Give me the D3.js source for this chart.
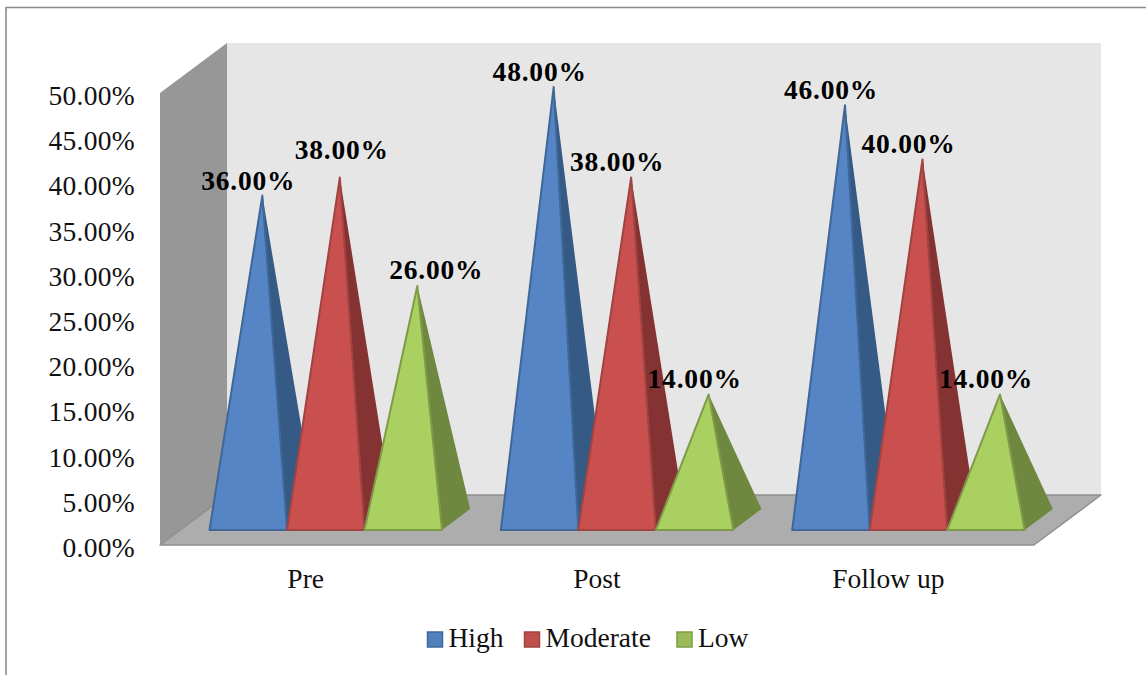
<!DOCTYPE html>
<html>
<head>
<meta charset="utf-8">
<script src="https://cdn.jsdelivr.net/npm/d3@7"></script>
<style>
  html, body { margin: 0; padding: 0; background: #fff; }
  svg { display: block; }
  text { font-family: "Liberation Serif", serif; fill: #111; }
</style>
</head>
<body>
<div id="chart"></div>
<script>
// values
var categories = ["Pre", "Post", "Follow up"];
var seriesNames = ["High", "Moderate", "Low"];
var high = [36, 48, 46];
var moderate = [38, 38, 40];
var low = [26, 14, 14];
var seriesValues = [high, moderate, low];
var yTicks = [0, 5, 10, 15, 20, 25, 30, 35, 40, 45, 50];

var frontColors = ["#5585c5", "#c9504f", "#aad061"];
var sideColors = ["#355a86", "#843232", "#6f8840"];
var lineColors = ["#3f6797", "#a04341", "#7f9a48"];
var legendColors = ["#4f81bd", "#c0504d", "#9bbb59"];

var totalWidth = 1146, totalHeight = 675;
var margin = { left: 160, top: 93 };
var width = 874, height = 452;
var fontSize = 27.5;
// depth of the 3d box, back wall is this far up and right of the front
var depthX = 67, depthY = 50;

var svg = d3.select("#chart").append("svg")
    .attr("width", totalWidth)
    .attr("height", totalHeight);

// outer frame
svg.append("path")
    .attr("d", "M6,675V7.5H1146")
    .attr("fill", "none")
    .attr("stroke", "#8c8c8c")
    .attr("stroke-width", 1.6);

var g = svg.append("g")
    .attr("transform", "translate(" + margin.left + "," + margin.top + ")");

var yScale = d3.scaleLinear().domain([0, 50]).range([height, 0]);
var xScale = d3.scaleBand().domain(categories).range([0, width]);
var innerScale = d3.scaleBand().domain(seriesNames)
    .range([xScale.bandwidth() * 0.101, xScale.bandwidth() * 0.899]);

// project a point (x in plot px, value, depth 0..1) on the screen
function project(x, value, depth) {
    return [x + depthX * depth, yScale(value) - depthY * depth];
}
function poly(points) {
    return "M" + points.map(function(p) { return p.join(","); }).join("L") + "Z";
}

// walls and floor
g.append("path")
    .attr("d", poly([project(0, 0, 1), project(width, 0, 1), project(width, 50, 1), project(0, 50, 1)]))
    .attr("fill", "#e6e6e6");
g.append("path")
    .attr("d", poly([project(0, 0, 0), project(0, 50, 0), project(0, 50, 1), project(0, 0, 1)]))
    .attr("fill", "#979797");
g.append("path")
    .attr("d", poly([project(0, 0, 0), project(0, 0, 1), project(width, 0, 1), project(width, 0, 0)]))
    .attr("fill", "#adadad")
    .attr("stroke", "#8f8f8f")
    .attr("stroke-width", 1.5)
    .attr("stroke-linejoin", "round");

// axes, text only
var yAxis = d3.axisLeft(yScale).tickValues(yTicks).tickSize(0).tickPadding(25)
    .tickFormat(function(d) { return d.toFixed(2) + "%"; });
var yAxisGroup = g.append("g").call(yAxis);
yAxisGroup.select(".domain").remove();
yAxisGroup.selectAll("text").attr("font-size", fontSize).attr("font-family", null)
    .attr("dy", "0.42em").attr("letter-spacing", 0.3).style("fill", "#111");

var xAxis = d3.axisBottom(xScale).tickSize(0).tickPadding(23);
var xAxisGroup = g.append("g").attr("transform", "translate(0," + height + ")").call(xAxis);
xAxisGroup.select(".domain").remove();
xAxisGroup.selectAll("text").attr("font-size", fontSize).attr("font-family", null)
    .style("fill", "#111");

// pyramids
var frontDepth = 0.3, backDepth = 0.72, midDepth = 0.51;
var apexDrop = 1.5;
var items = [];
categories.forEach(function(cat, c) {
    seriesNames.forEach(function(name, s) {
        items.push({ cat: cat, name: name, s: s, value: seriesValues[s][c] });
    });
});

var pyramid = g.selectAll(".pyramid").data(items).enter().append("g").attr("class", "pyramid");
function corners(d) {
    var x0 = xScale(d.cat) + innerScale(d.name), x1 = x0 + innerScale.bandwidth();
    var apex = project((x0 + x1) / 2, d.value, midDepth);
    apex[1] += apexDrop;
    return {
        fl: project(x0, 0, frontDepth),
        fr: project(x1, 0, frontDepth),
        br: project(x1, 0, backDepth),
        apex: apex
    };
}
pyramid.append("path")
    .attr("d", function(d) { var k = corners(d); return poly([k.fr, k.br, k.apex]); })
    .attr("fill", function(d) { return sideColors[d.s]; });
pyramid.append("path")
    .attr("d", function(d) { var k = corners(d); return poly([k.fl, k.fr, k.apex]); })
    .attr("fill", function(d) { return frontColors[d.s]; })
    .attr("stroke", function(d) { return lineColors[d.s]; })
    .attr("stroke-width", 2)
    .attr("stroke-linejoin", "round");

// data labels, moved by hand in the original where they would collide
var labelNudge = { "Pre|Moderate": [16, -12], "Pre|Low": [33, -1] };
g.selectAll(".value-label").data(items).enter().append("text")
    .attr("class", "value-label")
    .attr("x", function(d) {
        var n = labelNudge[d.cat + "|" + d.name] || [0, 0];
        return corners(d).apex[0] - 14 + n[0];
    })
    .attr("y", function(d) {
        var n = labelNudge[d.cat + "|" + d.name] || [0, 0];
        return corners(d).apex[1] - 6 + n[1];
    })
    .attr("text-anchor", "middle")
    .attr("font-size", fontSize)
    .attr("font-weight", "bold")
    .attr("letter-spacing", 0.8)
    .style("fill", "#000")
    .text(function(d) { return d.value.toFixed(2) + "%"; });

// legend
var legendX = [427.5, 524.5, 677];
var legend = svg.selectAll(".legend").data(seriesNames).enter().append("g")
    .attr("class", "legend")
    .attr("transform", function(d, i) { return "translate(" + legendX[i] + ",632)"; });
legend.append("rect")
    .attr("width", 15).attr("height", 15)
    .attr("fill", function(d, i) { return legendColors[i]; })
    .attr("stroke", function(d, i) { return lineColors[i]; })
    .attr("stroke-width", 1.5);
legend.append("text")
    .attr("x", 21).attr("y", 15)
    .attr("font-size", fontSize)
    .text(function(d) { return d; });
</script>
</body>
</html>
